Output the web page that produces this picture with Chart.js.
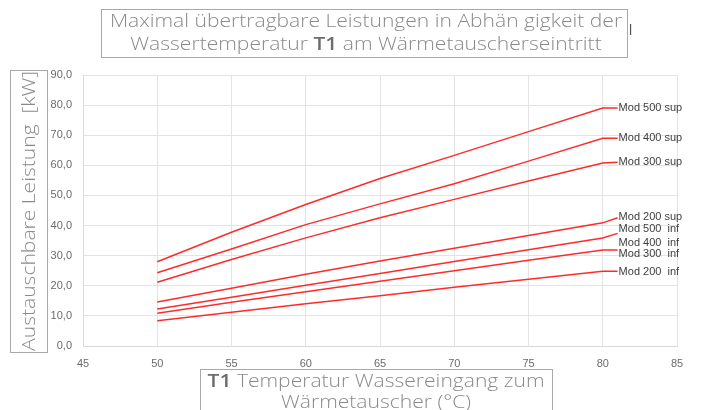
<!DOCTYPE html>
<html>
<head>
<meta charset="utf-8">
<script src="https://cdn.jsdelivr.net/npm/chart.js@4/dist/chart.umd.min.js"></script>
<style>
  html, body { margin: 0; padding: 0; background: #fff; }
  #wrap { width: 701px; height: 410px; position: relative; }
</style>
</head>
<body>
<div id="wrap"><canvas id="chart"></canvas></div>
<script>
// temperatures (°C) where the curves are sampled; 81 is the short lead-out to the label
const temps = [50, 55, 60, 65, 70, 75, 80, 81];

const mod500sup = [28.0, 37.8, 47.0, 55.6, 63.3, 71.2, 79.0, 79.0];
const mod400sup = [24.3, 32.2, 40.3, 47.2, 53.9, 61.4, 69.0, 69.0];
const mod300sup = [21.2, 28.7, 35.9, 42.6, 48.7, 54.8, 60.8, 61.0];
const mod200sup = [14.6, 19.2, 23.8, 28.2, 32.5, 36.7, 40.9, 42.6];
const mod500inf = [12.3, 16.2, 20.2, 24.1, 28.1, 32.0, 35.9, 37.4];
const mod300inf = [10.9, 14.5, 18.0, 21.5, 25.0, 28.5, 31.9, 31.9];
const mod200inf = [8.4, 11.2, 14.0, 16.7, 19.5, 22.2, 24.8, 24.8];

// text labels at the right end of the curves
const labelNames = ['Mod 500 sup', 'Mod 400 sup', 'Mod 300 sup', 'Mod 200 sup',
                    'Mod 500  inf', 'Mod 400  inf', 'Mod 300  inf', 'Mod 200  inf'];
const labelValues = [79.0, 69.0, 61.1, 42.8, 38.9, 34.2, 30.6, 24.7];
const labelTemp = 81;

const seriesList = [
  ['Mod 500 sup', mod500sup],
  ['Mod 400 sup', mod400sup],
  ['Mod 300 sup', mod300sup],
  ['Mod 200 sup', mod200sup],
  ['Mod 500 inf', mod500inf],
  ['Mod 300 inf', mod300inf],
  ['Mod 200 inf', mod200inf]
];

const lineColor = '#ff2b2b';
const boxFont = '"Open Sans", "Noto Sans", sans-serif';
const tickFont = '"Liberation Sans Narrow", "Liberation Sans", sans-serif';
const stretch = 1.17; // the original box font is wider than Open Sans

function drawRuns(ctx, runs, cx, y, size) {
  // runs: [text, bold]
  let total = 0;
  runs.forEach(r => {
    ctx.font = (r[1] ? '600 ' : '300 ') + size + 'px ' + boxFont;
    r.w = ctx.measureText(r[0]).width;
    total += r.w;
  });
  ctx.save();
  ctx.translate(cx, y);
  ctx.scale(stretch, 1);
  let x = -total / 2;
  runs.forEach(r => {
    ctx.font = (r[1] ? '600 ' : '300 ') + size + 'px ' + boxFont;
    ctx.fillStyle = r[1] ? '#6d6d6d' : '#8a8a8a';
    ctx.fillText(r[0], x, 0);
    x += r.w;
  });
  ctx.restore();
}

const boxTitles = {
  id: 'boxTitles',
  afterDraw(chart) {
    const ctx = chart.ctx;
    ctx.save();
    ctx.textBaseline = 'middle';
    ctx.textAlign = 'left';
    ctx.lineWidth = 1;
    ctx.strokeStyle = '#a9a9a9';

    // leftover glyph of the original title peeking out behind the box
    ctx.font = '14px "Liberation Sans", sans-serif';
    ctx.fillStyle = '#555';
    ctx.fillText('l', 629, 31);

    // main title
    ctx.fillStyle = '#fff';
    ctx.fillRect(101.5, 9.5, 526, 48);
    ctx.strokeRect(101.5, 9.5, 526, 48);
    drawRuns(ctx, [['Maximal übertragbare Leistungen in Abhän gigkeit der', false]], 366, 22, 18);
    drawRuns(ctx, [['Wassertemperatur ', false], ['T1', true], [' am Wärmetauscherseintritt', false]], 366, 45, 18);

    // y axis title
    ctx.fillStyle = '#fff';
    ctx.fillRect(10.5, 70.5, 37, 282);
    ctx.strokeRect(10.5, 70.5, 37, 282);
    ctx.save();
    ctx.translate(30, 211);
    ctx.rotate(-Math.PI / 2);
    drawRuns(ctx, [['Austauschbare Leistung  [kW]', false]], 0, 0, 18);
    ctx.restore();

    // x axis title
    ctx.fillStyle = '#fff';
    ctx.fillRect(200.5, 369.5, 352, 45);
    ctx.strokeRect(200.5, 369.5, 352, 45);
    drawRuns(ctx, [['T1', true], [' Temperatur Wassereingang zum', false]], 376, 382, 18);
    drawRuns(ctx, [['Wärmetauscher (°C)', false]], 376, 403, 18);
    ctx.restore();
  }
};

const curveLabels = {
  id: 'curveLabels',
  afterDatasetsDraw(chart) {
    const ctx = chart.ctx;
    const xs = chart.scales.x, ys = chart.scales.y;
    ctx.save();
    ctx.font = '11px ' + tickFont;
    ctx.fillStyle = '#404040';
    ctx.textAlign = 'left';
    ctx.textBaseline = 'middle';
    labelNames.forEach((name, i) => {
      ctx.fillText(name, xs.getPixelForValue(labelTemp) + 1, ys.getPixelForValue(labelValues[i]));
    });
    ctx.restore();
  }
};

const datasets = seriesList.map(s => ({
  label: s[0],
  data: temps.map((t, i) => ({ x: t, y: s[1][i] })),
  borderColor: lineColor,
  backgroundColor: lineColor,
  borderWidth: 1.5,
  pointRadius: 0,
  tension: 0,
  fill: false
}));

new Chart(document.getElementById('chart'), {
  type: 'line',
  data: { datasets: datasets },
  options: {
    responsive: true,
    maintainAspectRatio: false,
    animation: false,
    layout: { padding: { top: 75, right: 24, left: 0, bottom: 0 } },
    plugins: {
      legend: { display: false },
      title: { display: false },
      tooltip: { enabled: false }
    },
    scales: {
      x: {
        type: 'linear',
        min: 45,
        max: 85,
        ticks: {
          stepSize: 5,
          color: '#6b6b6b',
          font: { size: 11, family: tickFont },
          padding: 11,
          maxRotation: 0
        },
        grid: { color: '#e3e3e3', drawTicks: false },
        border: { color: '#d9d9d9' },
        afterFit(scale) { scale.height = 64; }
      },
      y: {
        min: 0,
        max: 90,
        ticks: {
          stepSize: 10,
          color: '#6b6b6b',
          font: { size: 11, family: tickFont },
          padding: 11,
          callback: v => v.toFixed(1).replace('.', ',')
        },
        grid: { color: '#e3e3e3', drawTicks: false },
        border: { color: '#d9d9d9' },
        afterFit(scale) { scale.width = 83; }
      }
    }
  },
  plugins: [curveLabels, boxTitles]
});
</script>
</body>
</html>
